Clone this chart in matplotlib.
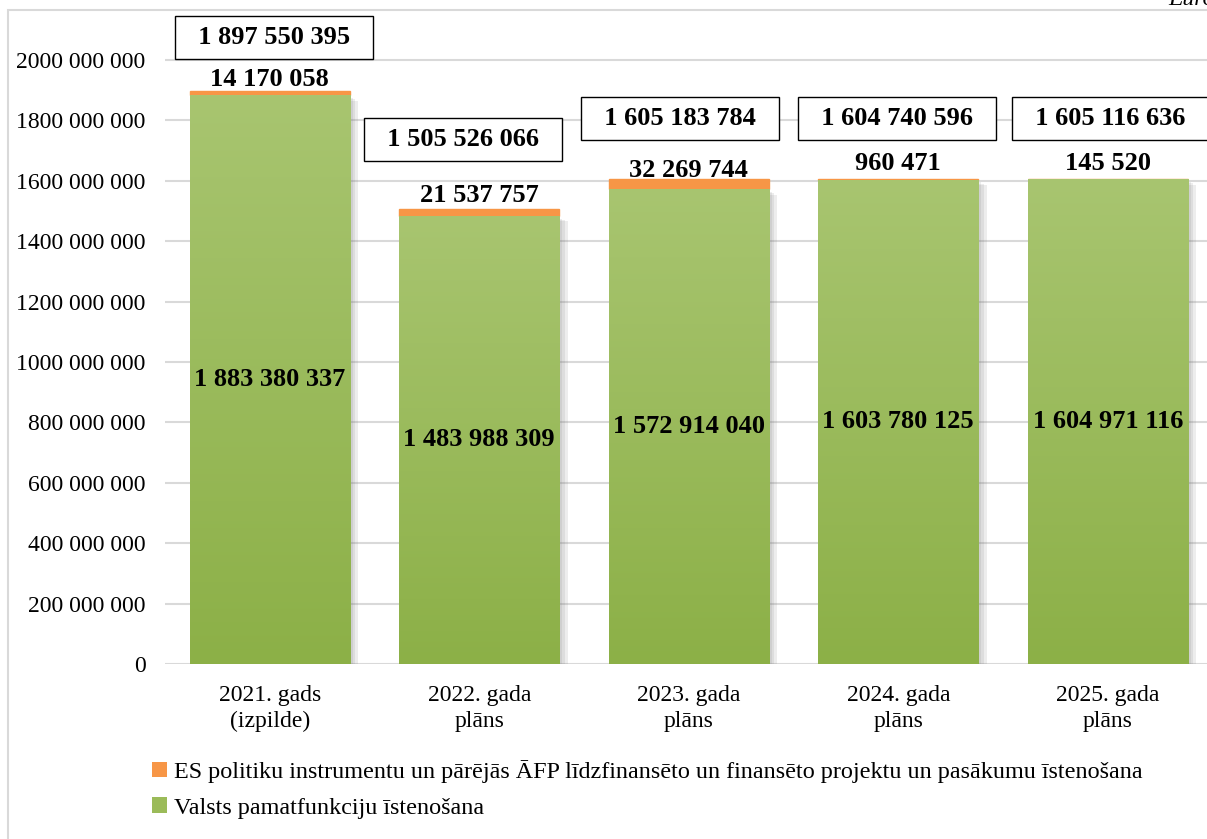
"""Budget chart: core functions vs EU co-financed projects, 2021-2025."""

import matplotlib
matplotlib.use("Agg")
import matplotlib.pyplot as plt
import matplotlib.patheffects as pe
import numpy as np
from matplotlib.colors import LinearSegmentedColormap
from matplotlib.patches import Rectangle

categories = ["2021. gads\n(izpilde)", "2022. gada\nplāns", "2023. gada\nplāns",
              "2024. gada\nplāns", "2025. gada\nplāns"]
core_values = [1883380337, 1483988309, 1572914040, 1603780125, 1604971116]
eu_values = [14170058, 21537757, 32269744, 960471, 145520]
totals = [1897550395, 1505526066, 1605183784, 1604740596, 1605116636]
series_names = [
    "ES politiku instrumentu un pārējās ĀFP līdzfinansēto un finansēto projektu un pasākumu īstenošana",
    "Valsts pamatfunkciju īstenošana",
]
yticks = [0, 200e6, 400e6, 600e6, 800e6, 1000e6, 1200e6, 1400e6, 1600e6, 1800e6, 2000e6]

# label offsets in pixels (layout only)
eu_label_dy = [11, 14, 9, 16, 16]
box_dx = [4, -16, -9, -1, 3]
box_dy = [53, 70, 61, 61, 61]

plt.rcParams["font.family"] = ["Liberation Serif", "DejaVu Serif"]

W, H = 1207, 839
fig = plt.figure(figsize=(W / 100, H / 100), dpi=100)

# outer chart frame
fig.patches.append(Rectangle((8 / W, -0.01), 1.1, 1 - 10 / H + 0.01, transform=fig.transFigure,
                             fill=False, edgecolor="#d9d9d9", linewidth=1.5))
fig.text(1168 / W, 1 - 5 / H, "Euro", fontsize=17, style="italic", va="baseline", ha="left")

px_per_val = (664 - 60) / 2000e6
ymax = 664 / px_per_val * (1 - 15 / 664)
ax = fig.add_axes([165 / W, 1 - 664 / H, (5 * 209.5) / W, (664 - 15) / H])
ax.set_ylim(0, ymax)
ax.set_xlim(-0.5, 4.5)

x = np.arange(len(categories))
width = 0.764

green_cmap = LinearSegmentedColormap.from_list("g", ["#8cb047", "#a8c570"])
grad = np.linspace(0, 1, 256).reshape(-1, 1)
shadow = [pe.SimplePatchShadow(offset=(2 + 2 * k, -2 - k), shadow_rgbFace="#707070", alpha=0.12)
          for k in range(3)] + [pe.Normal()]

for i in range(len(categories)):
    left = x[i] - width / 2
    gbar = ax.bar(x[i], core_values[i], width, color="#9bbb59", zorder=3,
                  path_effects=shadow)[0]
    img = ax.imshow(grad, cmap=green_cmap, origin="lower", aspect="auto",
                    extent=(left, left + width, 0, core_values[i]), zorder=3.5)
    img.set_clip_path(gbar)
    ax.bar(x[i], eu_values[i], width, bottom=core_values[i], color="#f79646",
           zorder=3, linewidth=1, edgecolor="#f79646")

    ax.text(x[i], core_values[i] / 2, f"{core_values[i]:,}".replace(",", " "),
            ha="center", va="center", fontsize=19, fontweight="bold", zorder=5)
    ax.annotate(f"{eu_values[i]:,}".replace(",", " "), (x[i], totals[i]),
                xytext=(0, eu_label_dy[i]), textcoords="offset pixels",
                ha="center", va="center", fontsize=19, fontweight="bold", zorder=5,
                annotation_clip=False)
    # en spaces widen the white box like the original data callouts
    ax.annotate("\u2002" + f"{totals[i]:,}".replace(",", " ") + "\u2002", (x[i], totals[i]),
                xytext=(box_dx[i], box_dy[i]), textcoords="offset pixels",
                ha="center", va="center", fontsize=19, fontweight="bold", zorder=6,
                annotation_clip=False,
                bbox=dict(boxstyle="square,pad=0.38", facecolor="white",
                          edgecolor="black", linewidth=1))

ax.set_yticks(yticks)
ax.set_yticklabels(["0" if v == 0 else f"{int(v // 1e6)} 000 000" for v in yticks], fontsize=17)
ax.set_xticks(x)
ax.set_xticklabels(categories, fontsize=17, linespacing=1.3)
ax.tick_params(length=0)
ax.tick_params(axis="x", pad=15)
ax.tick_params(axis="y", pad=14)
ax.yaxis.grid(True, color="#d9d9d9", linewidth=1.5, zorder=0)
ax.set_axisbelow(True)
for s in ax.spines.values():
    s.set_visible(False)

handles = [Rectangle((0, 0), 1, 1, facecolor="#f79646"), Rectangle((0, 0), 1, 1, facecolor="#9bbb59")]
fig.legend(handles, series_names, loc="upper left", bbox_to_anchor=(152 / W, 1 - 760 / H),
           frameon=False, fontsize=17.4, handlelength=0.6, handleheight=0.6,
           handletextpad=0.3, labelspacing=0.6, borderaxespad=0, borderpad=0)

fig.savefig("out.png", dpi=100)
